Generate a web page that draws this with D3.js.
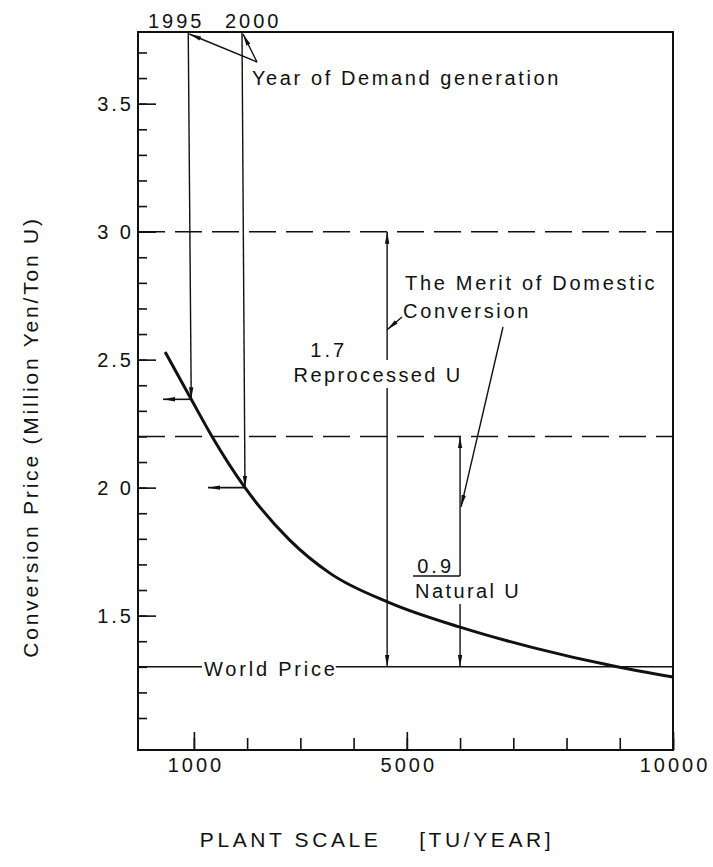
<!DOCTYPE html>
<html>
<head>
<meta charset="utf-8">
<script src="https://cdn.jsdelivr.net/npm/d3@7"></script>
<style>
  body { margin: 0; background: #fff; }
  text { font-family: "Liberation Sans", Arial, sans-serif; fill: #111; }
</style>
</head>
<body>
<div id="chart"></div>
<script>
// curve: conversion price vs plant scale
var plantScale = [460, 950, 1340, 1960, 2800, 3560, 4680, 6000, 7370, 8950, 10000];
var convPrice  = [2.53, 2.345, 2.2, 2.0, 1.795, 1.665, 1.55, 1.455, 1.375, 1.30, 1.26];

// year of demand generation
var yearLabels = ["1995", "2000"];
var yearScale  = [950, 1960];
var yearPrice  = [2.345, 2.0];
var yearArrowTo = [420, 1265];   // horizontal arrows run left to these scales

// domestic prices (dashed) and world price
var domesticPrice = [3.0, 2.2];
var worldPrice = 1.3;

// merit of domestic conversion
var meritLabels = ["1.7", "0.9"];
var meritNames  = ["Reprocessed  U", "Natural  U"];
var meritScale  = [4630, 6000];
var meritTop    = [3.0, 2.2];

// ticks
var xTicks = [1000, 2000, 3000, 4000, 5000, 6000, 7000, 8000, 9000, 10000];
var xLabelTicks = [1000, 5000, 10000];
var yMinorTicks = d3.range(11, 38).map(d => d / 10);
var yLabelTicks = [1.5, 2.0, 2.5, 3.0, 3.5];
var yTickLabels = ["1.5", "2 0", "2.5", "3 0", "3.5"];

var width = 713, height = 867;
var margin = { top: 32, right: 40, bottom: 117, left: 138 };

var svg = d3.select("#chart").append("svg")
    .attr("width", width)
    .attr("height", height);

var x = d3.scaleLinear()
    .domain([-50, 10000])
    .range([margin.left, width - margin.right]);

var y = d3.scaleLinear()
    .domain([0.975, 3.78])
    .range([height - margin.bottom, margin.top]);

var ink = "#111";

// arrowhead
svg.append("defs").append("marker")
    .attr("id", "arrow")
    .attr("viewBox", "0 0 12 6")
    .attr("refX", 12)
    .attr("refY", 3)
    .attr("markerWidth", 12)
    .attr("markerHeight", 6)
    .attr("markerUnits", "userSpaceOnUse")
    .attr("orient", "auto-start-reverse")
    .append("path")
    .attr("d", "M0,0.8 L12,3 L0,5.2 Z")
    .attr("fill", ink);

// frame
svg.append("rect")
    .attr("x", x.range()[0])
    .attr("y", y.range()[1])
    .attr("width", x.range()[1] - x.range()[0])
    .attr("height", y.range()[0] - y.range()[1])
    .attr("fill", "none")
    .attr("stroke", ink)
    .attr("stroke-width", 2);

// left axis: minor ticks, then major ticks with labels
var yMinor = svg.append("g")
    .attr("transform", `translate(${margin.left},0)`)
    .call(d3.axisLeft(y).tickValues(yMinorTicks).tickSize(-9).tickFormat(""));
var yMajor = svg.append("g")
    .attr("transform", `translate(${margin.left},0)`)
    .call(d3.axisLeft(y).tickValues(yLabelTicks).tickSize(-18).tickPadding(7)
        .tickFormat((d, i) => yTickLabels[i]));

// bottom axis
var xMinor = svg.append("g")
    .attr("transform", `translate(0,${y.range()[0]})`)
    .call(d3.axisBottom(x).tickValues(xTicks).tickSize(-12).tickFormat(""));
var xMajor = svg.append("g")
    .attr("transform", `translate(0,${y.range()[0]})`)
    .call(d3.axisBottom(x).tickValues(xLabelTicks).tickSize(-18).tickPadding(8)
        .tickFormat(d3.format("d")));

[yMinor, yMajor, xMinor, xMajor].forEach(function(g) {
    g.select(".domain").remove();
    g.selectAll("line").attr("stroke", ink).attr("stroke-width", 1.6);
    g.selectAll("text")
        .attr("fill", ink)
        .style("font-size", "20px")
        .style("letter-spacing", "3px");
});
yMajor.selectAll("text").attr("dx", 3);
xMajor.selectAll("text").attr("dx", 1.5);

// dashed domestic price lines
svg.selectAll(".domestic")
    .data(domesticPrice)
    .enter()
    .append("line")
    .attr("class", "domestic")
    .attr("x1", x.range()[0])
    .attr("x2", x.range()[1])
    .attr("y1", d => y(d))
    .attr("y2", d => y(d))
    .attr("stroke", ink)
    .attr("stroke-width", 1.5)
    .attr("stroke-dasharray", "27,10");

// world price line, broken by its label
var worldText = svg.append("text")
    .attr("x", 204)
    .attr("y", y(worldPrice) + 9)
    .style("font-size", "20px")
    .style("letter-spacing", "2.8px")
    .text("World Price");
var wb = worldText.node().getBBox();
svg.append("line")
    .attr("x1", x.range()[0]).attr("x2", wb.x - 2)
    .attr("y1", y(worldPrice)).attr("y2", y(worldPrice))
    .attr("stroke", ink).attr("stroke-width", 1.6);
svg.append("line")
    .attr("x1", wb.x + wb.width - 2).attr("x2", x.range()[1])
    .attr("y1", y(worldPrice)).attr("y2", y(worldPrice))
    .attr("stroke", ink).attr("stroke-width", 1.6);

// main curve
var line = d3.line()
    .x(d => x(d[0]))
    .y(d => y(d[1]))
    .curve(d3.curveMonotoneX);

svg.append("path")
    .datum(d3.zip(plantScale, convPrice))
    .attr("d", line)
    .attr("fill", "none")
    .attr("stroke", ink)
    .attr("stroke-width", 3);

// year lines from top down to the curve, then arrows to the left
yearScale.forEach(function(s, i) {
    svg.append("line")
        .attr("x1", x(s) - 3).attr("y1", y.range()[1])
        .attr("x2", x(s)).attr("y2", y(yearPrice[i]))
        .attr("stroke", ink).attr("stroke-width", 1.4)
        .attr("marker-end", "url(#arrow)");
    svg.append("line")
        .attr("x1", x(s)).attr("y1", y(yearPrice[i]))
        .attr("x2", x(yearArrowTo[i])).attr("y2", y(yearPrice[i]))
        .attr("stroke", ink).attr("stroke-width", 1.6)
        .attr("marker-end", "url(#arrow)");
});

svg.selectAll(".year")
    .data(yearLabels)
    .enter()
    .append("text")
    .attr("class", "year")
    .attr("x", (d, i) => [148, 225][i])
    .attr("y", 28)
    .style("font-size", "20px")
    .style("letter-spacing", "3px")
    .text(d => d);

svg.append("text")
    .attr("x", 252)
    .attr("y", 85)
    .style("font-size", "20px")
    .style("letter-spacing", "2.6px")
    .text("Year of Demand generation");

// pointers from the label to the year lines
yearScale.forEach(function(s) {
    svg.append("line")
        .attr("x1", 257).attr("y1", 62)
        .attr("x2", x(s) - 2).attr("y2", y.range()[1] + 2)
        .attr("stroke", ink).attr("stroke-width", 1.4)
        .attr("marker-end", "url(#arrow)");
});

// merit arrows with their labels
var nameY = [382, 598];
meritScale.forEach(function(s, i) {
    var xs = x(s);
    var name = svg.append("text")
        .attr("x", i == 0 ? xs - 9 : xs - 45)
        .attr("y", nameY[i])
        .attr("text-anchor", i == 0 ? "middle" : "start")
        .style("font-size", "20px")
        .style("letter-spacing", "2.4px")
        .text(meritNames[i]);
    var nb = name.node().getBBox();

    svg.append("text")
        .attr("x", i == 0 ? xs - 40 : xs - 6)
        .attr("y", nameY[i] - 25)
        .attr("text-anchor", "end")
        .style("font-size", "20px")
        .style("letter-spacing", "3px")
        .text(meritLabels[i]);

    var topEnd = i == 0 ? nb.y - 4 : nameY[i] - 22;
    svg.append("line")
        .attr("x1", xs).attr("y1", topEnd)
        .attr("x2", xs).attr("y2", y(meritTop[i]))
        .attr("stroke", ink).attr("stroke-width", 1.4)
        .attr("marker-end", "url(#arrow)");
    svg.append("line")
        .attr("x1", xs).attr("y1", nb.y + nb.height + 2)
        .attr("x2", xs).attr("y2", y(worldPrice))
        .attr("stroke", ink).attr("stroke-width", 1.4)
        .attr("marker-end", "url(#arrow)");

    if (i == 1) {
        // underline of 0.9
        svg.append("line")
            .attr("x1", xs - 47).attr("x2", xs)
            .attr("y1", nameY[i] - 22).attr("y2", nameY[i] - 22)
            .attr("stroke", ink).attr("stroke-width", 1.4);
    }
});

// merit of domestic conversion label
svg.append("text")
    .attr("x", 405)
    .attr("y", 290)
    .style("font-size", "20px")
    .style("letter-spacing", "2.7px")
    .text("The Merit of Domestic");
svg.append("text")
    .attr("x", 403)
    .attr("y", 318)
    .style("font-size", "20px")
    .style("letter-spacing", "2.7px")
    .text("Conversion");

svg.append("line")
    .attr("x1", 402).attr("y1", 317)
    .attr("x2", x(meritScale[0])).attr("y2", y(2.617))
    .attr("stroke", ink).attr("stroke-width", 1.4)
    .attr("marker-end", "url(#arrow)");
svg.append("line")
    .attr("x1", 503).attr("y1", 327)
    .attr("x2", x(meritScale[1]) + 1).attr("y2", y(1.925))
    .attr("stroke", ink).attr("stroke-width", 1.4)
    .attr("marker-end", "url(#arrow)");

// axis titles
svg.append("text")
    .attr("transform", `translate(38, 437) rotate(-90)`)
    .attr("text-anchor", "middle")
    .style("font-size", "21px")
    .style("letter-spacing", "2.8px")
    .text("Conversion Price (Million Yen/Ton U)");

svg.append("text")
    .attr("x", 377)
    .attr("y", 847)
    .attr("text-anchor", "middle")
    .style("font-size", "21px")
    .style("letter-spacing", "3.6px")
    .style("white-space", "pre")
    .text("PLANT SCALE    [TU/YEAR]");
</script>
</body>
</html>
